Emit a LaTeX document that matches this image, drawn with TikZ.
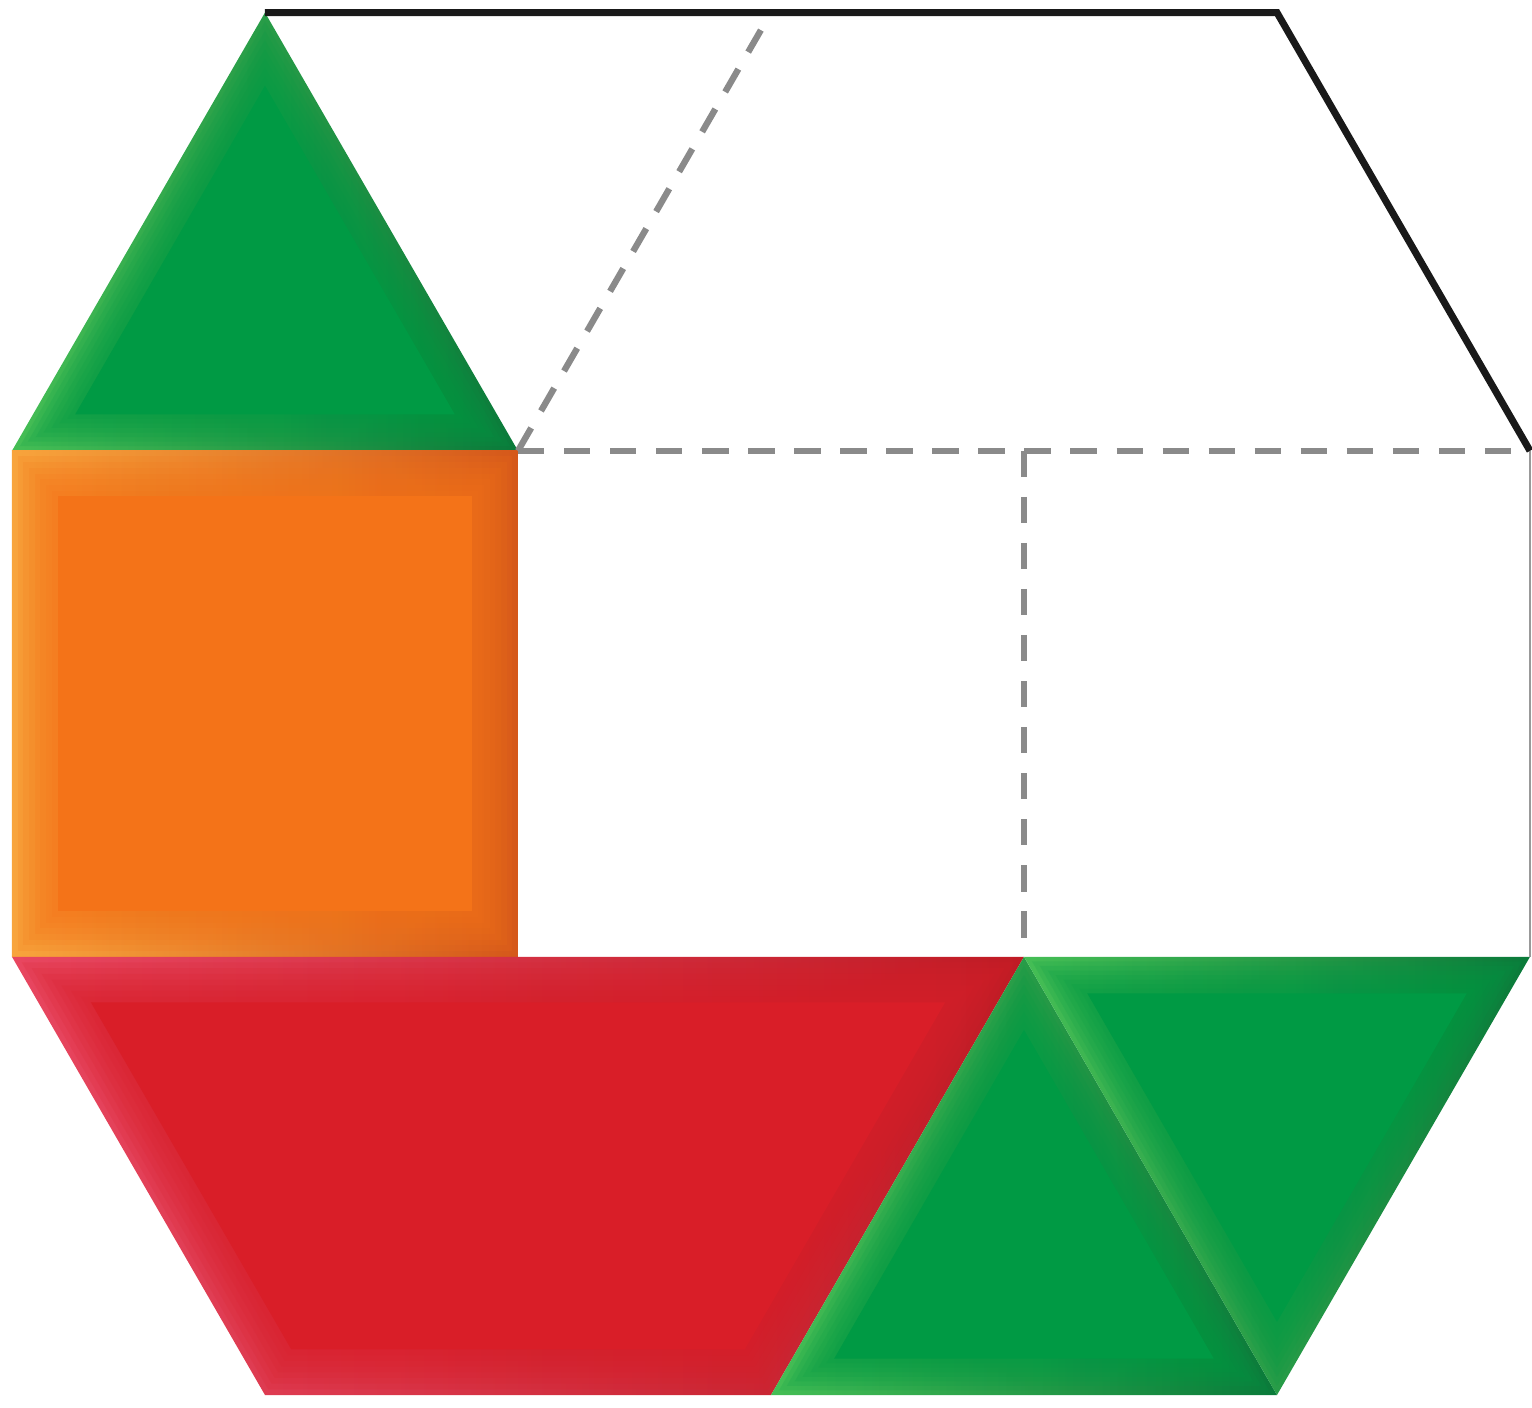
\documentclass[tikz,border=0pt]{standalone}
\usetikzlibrary{calc}
\definecolor{gbase}{HTML}{009A44}
\definecolor{glight}{HTML}{45BE55}
\definecolor{gdark}{HTML}{0A7A3A}
\definecolor{obase}{HTML}{F47318}
\definecolor{olight}{HTML}{F8A43C}
\definecolor{odark}{HTML}{D5581A}
\definecolor{rbase}{HTML}{D91E28}
\definecolor{rlight}{HTML}{E84660}
\definecolor{rdark}{HTML}{C01B24}
\definecolor{dashgray}{HTML}{8A8A8A}
\tikzset{
  dashline/.style={draw=dashgray,line width=1.8pt,dash pattern=on 7.5pt off 5.6pt},
  outline/.style={draw=black!90,line width=2pt,line join=miter},
  thinline/.style={draw=black!40,line width=0.8pt}
}
\newcommand\bevelpiece[7]{%
  \shade[left color=#1,right color=#2] #4;
  \foreach \k in {1,...,7}{%
    \pgfmathsetmacro{\f}{1-\k*(1-#5)/8}%
    \fill[#3,opacity=0.15,scale around={\f:(#6,#7)}] #4;
  }
  \fill[#3,scale around={#5:(#6,#7)}] #4;
}
\begin{document}
\begin{tikzpicture}[x=5.06cm,y=5.06cm]
\useasboundingbox (-0.0237,-0.0237) rectangle (3.004,2.757);
\pgfmathsetmacro{\h}{0.8660254}
\pgfmathsetmacro{\hh}{1+\h}
\pgfmathsetmacro{\top}{1+2*\h}
\pgfmathsetmacro{\ta}{\h/3}
\pgfmathsetmacro{\tb}{2*\h/3}
\pgfmathsetmacro{\tc}{1+\h+\h/3}
\pgfmathsetmacro{\sc}{\h+0.5}
% top-left green triangle
\bevelpiece{glight}{gdark}{gbase}{(0,\hh) -- (1,\hh) -- (0.5,\top) -- cycle}{0.75}{0.5}{\tc}
% orange square
\bevelpiece{olight}{odark}{obase}{(0,\h) -- (1,\h) -- (1,\hh) -- (0,\hh) -- cycle}{0.82}{0.5}{\sc}
% red trapezoid
\shade[left color=rlight,right color=rdark] (0,\h) -- (2,\h) -- (1.5,0) -- (0.5,0) -- cycle;
\foreach \k in {1,...,7}{%
  \pgfmathsetmacro{\d}{\k*0.09/8}%
  \pgfmathsetmacro{\xa}{1.7320508*\d}%
  \pgfmathsetmacro{\xb}{2-1.7320508*\d}%
  \pgfmathsetmacro{\xc}{1.5-\d/1.7320508}%
  \pgfmathsetmacro{\xd}{0.5+\d/1.7320508}%
  \pgfmathsetmacro{\yt}{\h-\d}%
  \fill[rbase,opacity=0.15] (\xa,\yt) -- (\xb,\yt) -- (\xc,\d) -- (\xd,\d) -- cycle;
}
\pgfmathsetmacro{\yb}{\h-0.09}
\fill[rbase] (0.1559,\yb) -- (1.8441,\yb) -- (1.4480,0.09) -- (0.5520,0.09) -- cycle;
% bottom green triangles
\bevelpiece{glight}{gdark}{gbase}{(1.5,0) -- (2.5,0) -- (2,\h) -- cycle}{0.75}{2}{\ta}
\bevelpiece{glight}{gdark}{gbase}{(2,\h) -- (3,\h) -- (2.5,0) -- cycle}{0.75}{2.5}{\tb}
% coordinates for lines
\coordinate (TL) at (0.5,\top);
\coordinate (TM) at (1.5,\top);
\coordinate (TR) at (2.5,\top);
\coordinate (ML) at (1,\hh);
\coordinate (MM) at (2,\hh);
\coordinate (MR) at (3,\hh);
\coordinate (BM) at (2,\h);
\coordinate (BR) at (3,\h);
% dashed lines
\draw[dashline] (ML) -- ($(ML)!0.96!(TM)$);
\draw[dashline] (ML) -- (MR);
\draw[dashline] (MM) -- (BM);
% outline
\draw[thinline] (MR) -- (BR);
\draw[outline] (TL) -- (TR) -- (MR);
\end{tikzpicture}
\end{document}
